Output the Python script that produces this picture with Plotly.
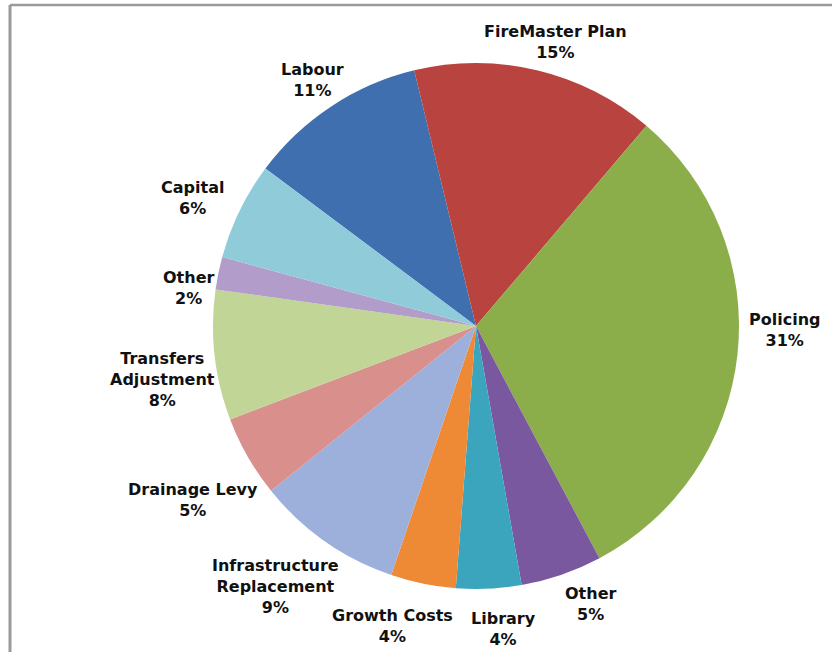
import plotly.graph_objects as go

# Budget pressure breakdown, clockwise from "Labour"
categories = ["Labour", "FireMaster Plan", "Policing", "Other", "Library",
              "Growth Costs", "Infrastructure<br>Replacement", "Drainage Levy",
              "Transfers<br>Adjustment", "Other", "Capital"]
shares = [11, 15, 31, 5, 4, 4, 9, 5, 8, 2, 6]
colors = ["#3F6FAE", "#B8433F", "#8CAE4A", "#7A58A0", "#3CA5BE", "#EE8A36",
          "#9CB0DB", "#D98F8C", "#C1D597", "#B29CCA", "#90CBDA"]

# label block centres in pixels (x from left, y from top)
label_px = [(312, 80), (555, 42), (785, 330), (590, 604), (504, 629),
            (392, 626), (275, 586), (193, 500), (162, 379), (188, 288),
            (192, 198)]

W, H = 832, 652
cx, cy, r = 476, 326, 263

fig = go.Figure(go.Pie(
    labels=[f"{c}#{i}" for i, c in enumerate(categories)],
    values=shares,
    sort=False,
    direction="clockwise",
    rotation=-53.2,
    marker=dict(colors=colors, line=dict(width=0)),
    textinfo="none",
    hoverinfo="skip",
    showlegend=False,
    domain=dict(x=[(cx - r) / W, (cx + r) / W],
                y=[(H - cy - r) / H, (H - cy + r) / H]),
))

total = sum(shares)
for name, v, (lx, ly) in zip(categories, shares, label_px):
    fig.add_annotation(
        x=lx / W, y=1 - ly / H, xref="paper", yref="paper",
        text=f"<b>{name}<br>{round(100 * v / total)}%</b>",
        showarrow=False, align="center",
        xanchor="center", yanchor="middle",
        font=dict(family="DejaVu Sans", size=16, color="#111111"),
    )

# chart frame (top and left edges)
fig.add_shape(type="line", xref="paper", yref="paper",
              x0=10 / W, x1=1, y0=1 - 5 / H, y1=1 - 5 / H,
              line=dict(color="#9A9A9A", width=2.5))
fig.add_shape(type="line", xref="paper", yref="paper",
              x0=10 / W, x1=10 / W, y0=0, y1=1 - 5 / H,
              line=dict(color="#9A9A9A", width=3))

fig.update_layout(
    width=W, height=H,
    margin=dict(l=0, r=0, t=0, b=0),
    paper_bgcolor="white", plot_bgcolor="white",
)

fig.write_html("out.html")
